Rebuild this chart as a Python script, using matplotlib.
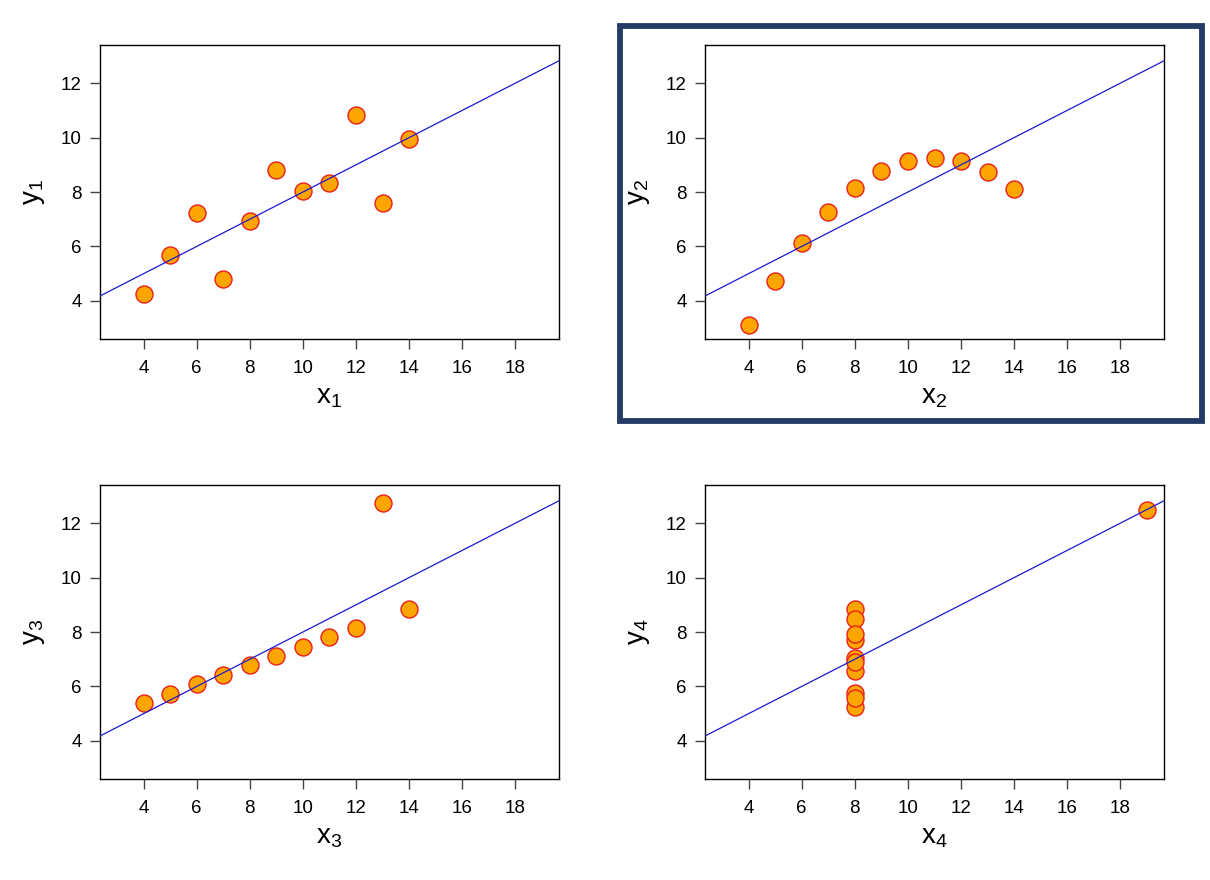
import matplotlib
matplotlib.use("Agg")
import matplotlib.pyplot as plt
from matplotlib.patches import Rectangle
import numpy as np

plt.rcParams['font.family'] = ['Liberation Sans', 'DejaVu Sans']
plt.rcParams['mathtext.fontset'] = 'custom'
plt.rcParams['mathtext.rm'] = 'Liberation Sans'
plt.rcParams['mathtext.it'] = 'Liberation Sans'

x123 = [10, 8, 13, 9, 11, 14, 6, 4, 12, 7, 5]
y1 = [8.04, 6.95, 7.58, 8.81, 8.33, 9.96, 7.24, 4.26, 10.84, 4.82, 5.68]
y2 = [9.14, 8.14, 8.74, 8.77, 9.26, 8.10, 6.13, 3.10, 9.13, 7.26, 4.74]
y3 = [7.46, 6.77, 12.74, 7.11, 7.81, 8.84, 6.08, 5.39, 8.15, 6.42, 5.73]
x4 = [8, 8, 8, 8, 8, 8, 8, 19, 8, 8, 8]
y4 = [6.58, 5.76, 7.71, 8.84, 8.47, 7.04, 5.25, 12.50, 5.56, 7.91, 6.89]
fit_intercept = 3.0
fit_slope = 0.5
xticks = [4, 6, 8, 10, 12, 14, 16, 18]
yticks = [4, 6, 8, 10, 12]

panels = [
    (x123, y1, '1'),
    (x123, y2, '2'),
    (x123, y3, '3'),
    (x4, y4, '4'),
]

W, H = 1210, 880
fig = plt.figure(figsize=(W / 100, H / 100), dpi=100)

positions = [
    (100, 45, 559, 339),
    (705, 45, 1164, 339),
    (100, 485, 559, 779),
    (705, 485, 1164, 779),
]

for (xs, ys, idx), (l, t, r, b) in zip(panels, positions):
    ax = fig.add_axes([l / W, 1 - b / H, (r - l) / W, (b - t) / H])
    ax.set_xlim(2.36, 19.64)
    ax.set_ylim(2.6, 13.4)
    xl = np.array([0, 22])
    ax.scatter(xs, ys, s=(17 * 0.72) ** 2, facecolor='#FFA500',
               edgecolor='#E8201A', linewidth=1.0, zorder=2)
    ax.plot(xl, fit_intercept + fit_slope * xl, color='#1a1acc', lw=0.9, zorder=3)
    ax.set_xticks(xticks)
    ax.set_yticks(yticks)
    ax.tick_params(axis='both', direction='out', length=7, width=1.0,
                   color='#444444', labelsize=13.5)
    ax.tick_params(axis='x', pad=8)
    ax.tick_params(axis='y', pad=6)
    for sp in ax.spines.values():
        sp.set_linewidth(1.0)
        sp.set_color('black')
    ax.set_xlabel(r'$\mathregular{x_{%s}}$' % idx, fontsize=20, labelpad=5)
    ax.set_ylabel(r'$\mathregular{y_{%s}}$' % idx, fontsize=20, labelpad=10)

# highlight frame around the second panel
rect = Rectangle((620 / W, 1 - 421 / H), (1202 - 620) / W, (421 - 26) / H,
                 transform=fig.transFigure, fill=False, edgecolor='#243b66',
                 linewidth=4.2, zorder=10)
fig.patches.append(rect)

fig.savefig('out.png', dpi=100, facecolor='white')
